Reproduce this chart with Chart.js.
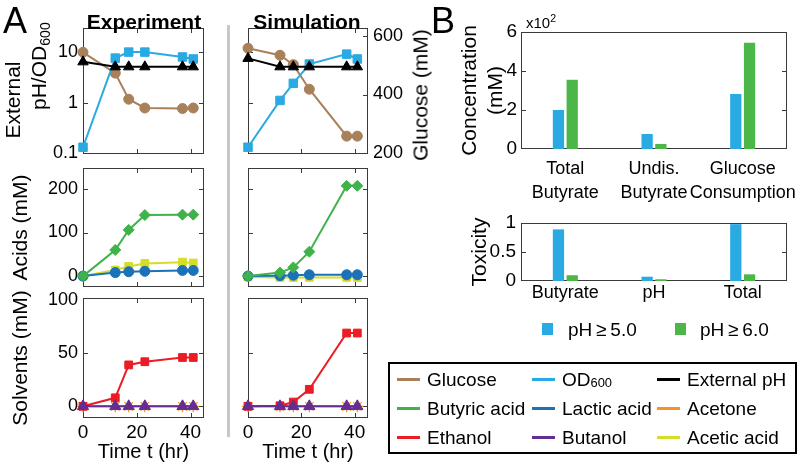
<!DOCTYPE html>
<html>
<head>
<meta charset="utf-8">
<title>Butyrate fermentation</title>
<script src="https://cdn.jsdelivr.net/npm/chart.js@4.4.1/dist/chart.umd.min.js"></script>
<style>
  body { margin: 0; background: #fff; }
  #fig { position: relative; width: 802px; height: 465px; overflow: hidden;
         font-family: "Liberation Sans", Arial, Helvetica, sans-serif; color: #000; }
  #fig canvas { position: absolute; left: 0; top: 0; }
  .txt { position: absolute; white-space: nowrap; line-height: 1; transform: translate(-50%, -50%); }
  .rot { transform: translate(-50%, -50%) rotate(-90deg); }
  .letter { font-size: 36px; }
  .colTitle { font-size: 21px; font-weight: bold; }
  .axTitle { font-size: 21px; }
  sub { font-size: 0.68em; position: relative; top: 0.3em; vertical-align: baseline; line-height: 0; }
  sup { font-size: 0.7em; vertical-align: 0.55em; line-height: 0; }
  #sep { position: absolute; left: 227px; top: 25px; width: 3px; height: 412px; background: #c8c8c8; }
  .sq { position: absolute; width: 11px; height: 12px; }
  .phTxt { position: absolute; font-size: 19px; line-height: 1; transform: translateY(-50%); white-space: nowrap; }
  #legend { position: absolute; left: 388px; top: 362px; width: 398px; height: 87px;
            border: 2px solid #000; padding: 1px 0 0 7px; display: grid;
            grid-template-columns: 135px 125px 1fr; grid-template-rows: repeat(3, 29px); }
  .item { display: flex; align-items: center; font-size: 19px; white-space: nowrap; }
  .item .sw { width: 23px; height: 2.5px; margin-right: 7px; flex: none; }
</style>
</head>
<body>
<div id="fig">
  <div id="sep"></div>
  <canvas id="cExpTop" width="802" height="465"></canvas>
  <canvas id="cSimTop" width="802" height="465"></canvas>
  <canvas id="cExpAcid" width="802" height="465"></canvas>
  <canvas id="cSimAcid" width="802" height="465"></canvas>
  <canvas id="cExpSolv" width="802" height="465"></canvas>
  <canvas id="cSimSolv" width="802" height="465"></canvas>
  <canvas id="cConc" width="802" height="465"></canvas>
  <canvas id="cTox" width="802" height="465"></canvas>

  <div class="txt letter" style="left:15px;top:21px">A</div>
  <div class="txt letter" style="left:443px;top:21px">B</div>
  <div class="txt colTitle" style="left:144px;top:21px">Experiment</div>
  <div class="txt colTitle" style="left:307px;top:21px">Simulation</div>
  <div class="txt axTitle rot" style="left:12px;top:100px">External</div>
  <div class="txt axTitle rot" style="left:38px;top:66px">pH/OD<sub>600</sub></div>
  <div class="txt axTitle rot" style="left:420px;top:95px">Glucose (mM)</div>
  <div class="txt" style="left:541px;top:22px;font-size:15px">x10<sup>2</sup></div>

  <div id="phLegend"></div>
  <div id="legend"></div>
</div>

<script>
// ---- data ----
const timeExp = [0, 12, 17, 23, 37, 41];
const timeSim = [0, 12, 17, 23, 37, 41];
const timeTicks = [0, 20, 40];
const logTicks = [0.1, 1, 10];
const glucoseTicks = [200, 400, 600];
const acidTicks = [0, 100, 200];
const solventTicks = [0, 50, 100];

const expGlucose = [544, 473, 384, 354, 352, 354];
const expOD = [0.13, 7.6, 10, 10, 8, 7.3];
const expPH = [6.4, 5.1, 5.1, 5.1, 5.1, 5.1];
const expButyric = [0, 60, 106, 140, 141, 141];
const expLactic = [0, 8, 10, 11, 13, 13];
const expAcetic = [0, 14, 22, 29, 32, 30];
const expEthanol = [0, 8, 39, 42, 46, 46];
const expButanol = [0, 0, 0, 0, 0, 0];
const expAcetone = [0, 0, 0, 0, 0, 0];

const simGlucose = [558, 534, 502, 418, 258, 258];
const simOD = [0.13, 1.1, 2.4, 5.8, 9.1, 7.3];
const simPH = [7.5, 5.1, 5.1, 5.1, 5.1, 5.1];
const simButyric = [0, 8, 20, 56, 207, 207];
const simLactic = [0, 1, 2, 3, 3, 3];
const simAcetic = [-2, -3, -3, -3, -3, -3];
const simEthanol = [0, 0.5, 4, 16, 69, 69];
const simButanol = [0, 0, 0, 0, 0, 0];
const simAcetone = [0, 0, 0, 0, 0, 0];

const concLabels = [["Total", "Butyrate"], ["Undis.", "Butyrate"], ["Glucose", "Consumption"]];
const concPH5 = [2.0, 0.77, 2.82];
const concPH6 = [3.55, 0.26, 5.45];
const concTicks = [0, 2, 4, 6];
const toxLabels = ["Butyrate", "pH", "Total"];
const toxPH5 = [0.89, 0.074, 0.98];
const toxPH6 = [0.1, 0.03, 0.115];
const toxTicks = [0, 0.5, 1];

const seriesNames = ["Glucose", "OD600", "External pH", "Butyric acid", "Lactic acid", "Acetone",
                     "Ethanol", "Butanol", "Acetic acid"];
const barNames = ["pH\u2009\u2265\u20095.0", "pH\u2009\u2265\u20096.0"];

// ---- styles ----
const COLORS = {
  "Glucose": "#a8805a",
  "OD600": "#2aaae2",
  "External pH": "#000000",
  "Butyric acid": "#3fb34a",
  "Lactic acid": "#1b72b8",
  "Acetone": "#f7941d",
  "Ethanol": "#ec1c24",
  "Butanol": "#652d90",
  "Acetic acid": "#d5dd26",
};
const BAR_BLUE = "#2aaae2";
const BAR_GREEN = "#4cb748";
const W = 802, H = 465;

Chart.defaults.font.family = "'Liberation Sans', Arial, Helvetica, sans-serif";
Chart.defaults.font.size = 18;
Chart.defaults.color = "#000";
Chart.defaults.animation = false;
Chart.defaults.plugins.legend.display = false;
Chart.defaults.plugins.tooltip.enabled = false;

// box outline + inward ticks, placed with the chart's own scales
const frameTicks = {
  id: "frameTicks",
  beforeDatasetsDraw(chart, args, opts) {
    const { ctx, chartArea: a } = chart;
    const len = 5;
    ctx.save();
    ctx.strokeStyle = "#3a3a3a";
    ctx.lineWidth = 1;
    ctx.strokeRect(Math.round(a.left) + 0.5, Math.round(a.top) + 0.5,
                   Math.round(a.right - a.left) - 1, Math.round(a.bottom - a.top) - 1);
    ctx.beginPath();
    Object.entries(opts.sides || {}).forEach(([id, sides]) => {
      const s = chart.scales[id];
      s.ticks.forEach((t) => {
        const p = Math.round(s.getPixelForValue(t.value)) + 0.5;
        sides.forEach((side) => {
          if (side === "top" || side === "bottom") {
            if (p < a.left + 3 || p > a.right - 3) return;
            const y0 = side === "top" ? a.top : a.bottom;
            ctx.moveTo(p, y0);
            ctx.lineTo(p, y0 + (side === "top" ? len : -len));
          } else {
            if (p < a.top + 3 || p > a.bottom - 3) return;
            const x0 = side === "left" ? a.left : a.right;
            ctx.moveTo(x0, p);
            ctx.lineTo(x0 + (side === "left" ? len : -len), p);
          }
        });
      });
    });
    ctx.stroke();
    ctx.restore();
  },
};

function fixSize(size) {
  return (scale) => {
    if (scale.isHorizontal()) scale.height = size;
    else scale.width = size;
    scale.paddingLeft = scale.paddingRight = scale.paddingTop = scale.paddingBottom = 0;
  };
}

function setTicks(values) {
  return (scale) => {
    scale.ticks = values.map((v) => ({ value: v }));
  };
}

function axis(extra) {
  return Object.assign({
    grid: { display: false, drawTicks: false },
    border: { display: false },
  }, extra);
}

function series(xs, ys, name, style, radius, extra) {
  const c = COLORS[name];
  return Object.assign({
    label: name,
    data: xs.map((x, i) => ({ x, y: ys[i] })),
    borderColor: c,
    backgroundColor: c,
    pointBackgroundColor: c,
    pointBorderColor: c,
    pointStyle: style,
    pointRadius: radius,
    pointBorderWidth: 1,
    borderWidth: 2,
    tension: 0,
    clip: false,
  }, extra || {});
}

// box = [x0, y0, x1, y1]; wL / wR / hB = widths of left axis, right axis, bottom axis
function panel(id, type, box, data, scales, sides, wL, wR, hB) {
  return new Chart(document.getElementById(id), {
    type,
    data,
    options: {
      responsive: false,
      layout: { padding: { left: box[0] - wL, right: W - box[2] - wR, top: box[1], bottom: H - box[3] - hB } },
      scales,
      plugins: { frameTicks: { sides } },
    },
    plugins: [frameTicks],
  });
}

function timeAxis(showLabels, hB) {
  return axis({
    type: "linear", min: 0, max: 45,
    afterBuildTicks: setTicks(timeTicks),
    ticks: { display: showLabels, padding: 3, font: { size: 19 } },
    title: { display: showLabels, text: "Time t (hr)", font: { size: 20 }, padding: 0 },
    afterFit: fixSize(hB),
  });
}

const expX = [83, 204], simX = [248, 368];
const topY = [28, 154], acidY = [168, 287], solvY = [298, 418];

// --- top row: OD600 / pH (log) and glucose (right) ---
function topPanel(id, xr, t, od, ph, glu, showLeft, showRight) {
  panel(id, "line", [xr[0], topY[0], xr[1], topY[1]], {
    datasets: [
      series(t, ph, "External pH", "triangle", 6, { yAxisID: "y" }),
      series(t, od, "OD600", "rect", 6, { yAxisID: "y" }),
      series(t, glu, "Glucose", "circle", 5, { yAxisID: "yG" }),
    ],
  }, {
    x: timeAxis(false, 0),
    y: axis({
      type: "logarithmic", min: 0.0955, max: 30,
      afterBuildTicks: setTicks(logTicks),
      ticks: { display: showLeft, padding: 5, callback: (v) => String(v) },
      afterFit: fixSize(showLeft ? 40 : 0),
    }),
    yG: axis({
      type: "linear", position: "right", min: 197, max: 627,
      afterBuildTicks: setTicks(glucoseTicks),
      ticks: { display: showRight, padding: 5 },
      afterFit: fixSize(showRight ? 45 : 0),
    }),
  }, showRight ? { x: ["top", "bottom"], y: ["left"], yG: ["right"] }
               : { x: ["top", "bottom"], y: ["left", "right"] },
  showLeft ? 40 : 0, showRight ? 45 : 0, 0);
}
topPanel("cExpTop", expX, timeExp, expOD, expPH, expGlucose, true, false);
topPanel("cSimTop", simX, timeSim, simOD, simPH, simGlucose, false, true);

// --- middle row: acids ---
function acidPanel(id, xr, t, but, lac, ace, showLeft) {
  const wL = showLeft ? 74 : 0;
  panel(id, "line", [xr[0], acidY[0], xr[1], acidY[1]], {
    datasets: [
      series(t, but, "Butyric acid", "rectRot", 5.5),
      series(t, lac, "Lactic acid", "circle", 5),
      series(t, ace, "Acetic acid", "rect", 5.5),
    ],
  }, {
    x: timeAxis(false, 0),
    y: axis({
      min: -25, max: 248,
      afterBuildTicks: setTicks(acidTicks),
      ticks: { display: showLeft, padding: 5 },
      title: { display: showLeft, text: "Acids (mM)", font: { size: 21 }, padding: 0 },
      afterFit: fixSize(wL),
    }),
  }, { x: ["top", "bottom"], y: ["left", "right"] }, wL, 0, 0);
}
acidPanel("cExpAcid", expX, timeExp, expButyric, expLactic, expAcetic, true);
acidPanel("cSimAcid", simX, timeSim, simButyric, simLactic, simAcetic, false);

// --- bottom row: solvents ---
function solvPanel(id, xr, t, eth, buOH, acn, showLeft) {
  const wL = showLeft ? 74 : 0;
  panel(id, "line", [xr[0], solvY[0], xr[1], solvY[1]], {
    datasets: [
      series(t, buOH, "Butanol", "triangle", 6.5),
      series(t, eth, "Ethanol", "rect", 5.5),
      series(t, acn, "Acetone", "star", 6, { pointBorderWidth: 1.2 }),
    ],
  }, {
    x: timeAxis(true, 46),
    y: axis({
      min: -11, max: 102,
      afterBuildTicks: setTicks(solventTicks),
      ticks: { display: showLeft, padding: 5 },
      title: { display: showLeft, text: "Solvents (mM)", font: { size: 21 }, padding: 0 },
      afterFit: fixSize(wL),
    }),
  }, { x: ["top", "bottom"], y: ["left", "right"] }, wL, 0, 46);
}
solvPanel("cExpSolv", expX, timeExp, expEthanol, expButanol, expAcetone, true);
solvPanel("cSimSolv", simX, timeSim, simEthanol, simButanol, simAcetone, false);

// --- panel B ---
function barSet(values, color, name) {
  return { label: name, data: values, backgroundColor: color, barPercentage: 0.82, categoryPercentage: 0.31 };
}

const flatTicks = { maxRotation: 0, minRotation: 0, autoSkip: false };

panel("cConc", "bar", [521, 32, 787, 149], {
  labels: concLabels,
  datasets: [barSet(concPH5, BAR_BLUE, barNames[0]), barSet(concPH6, BAR_GREEN, barNames[1])],
}, {
  x: axis({ ticks: Object.assign({ padding: 9, font: { size: 18, lineHeight: 1.28 } }, flatTicks), afterFit: fixSize(55) }),
  y: axis({
    min: 0, max: 6,
    afterBuildTicks: setTicks(concTicks),
    ticks: { padding: 4, font: { size: 19 }, callback: (v) => String(v) },
    title: { display: true, text: ["Concentration", "(mM)"], font: { size: 21, lineHeight: 1.25 }, padding: 0 },
    afterFit: fixSize(64),
  }),
}, { y: ["left", "right"] }, 64, 0, 55);

panel("cTox", "bar", [521, 223, 787, 281], {
  labels: toxLabels,
  datasets: [barSet(toxPH5, BAR_BLUE, barNames[0]), barSet(toxPH6, BAR_GREEN, barNames[1])],
}, {
  x: axis({ ticks: Object.assign({ padding: 1, font: { size: 18 } }, flatTicks), afterFit: fixSize(25) }),
  y: axis({
    min: 0, max: 1,
    afterBuildTicks: setTicks(toxTicks),
    ticks: { padding: 5, font: { size: 19 }, callback: (v) => String(v) },
    title: { display: true, text: "Toxicity", font: { size: 21, lineHeight: 1.25 }, padding: 0 },
    afterFit: fixSize(54),
  }),
}, { y: ["left", "right"] }, 54, 0, 25);

// --- legends ---
const phLegend = document.getElementById("phLegend");
[[BAR_BLUE, 542, 568], [BAR_GREEN, 675, 700]].forEach(([color, sqX, txtX], i) => {
  phLegend.insertAdjacentHTML("beforeend",
    `<div class="sq" style="left:${sqX}px;top:323px;background:${color}"></div>` +
    `<div class="phTxt" style="left:${txtX}px;top:329px">${barNames[i]}</div>`);
});

const legendEl = document.getElementById("legend");
seriesNames.forEach((name) => {
  const label = name === "OD600" ? "OD<sub>600</sub>" : name;
  legendEl.insertAdjacentHTML("beforeend",
    `<div class="item"><span class="sw" style="background:${COLORS[name]}"></span>${label}</div>`);
});
</script>
</body>
</html>
